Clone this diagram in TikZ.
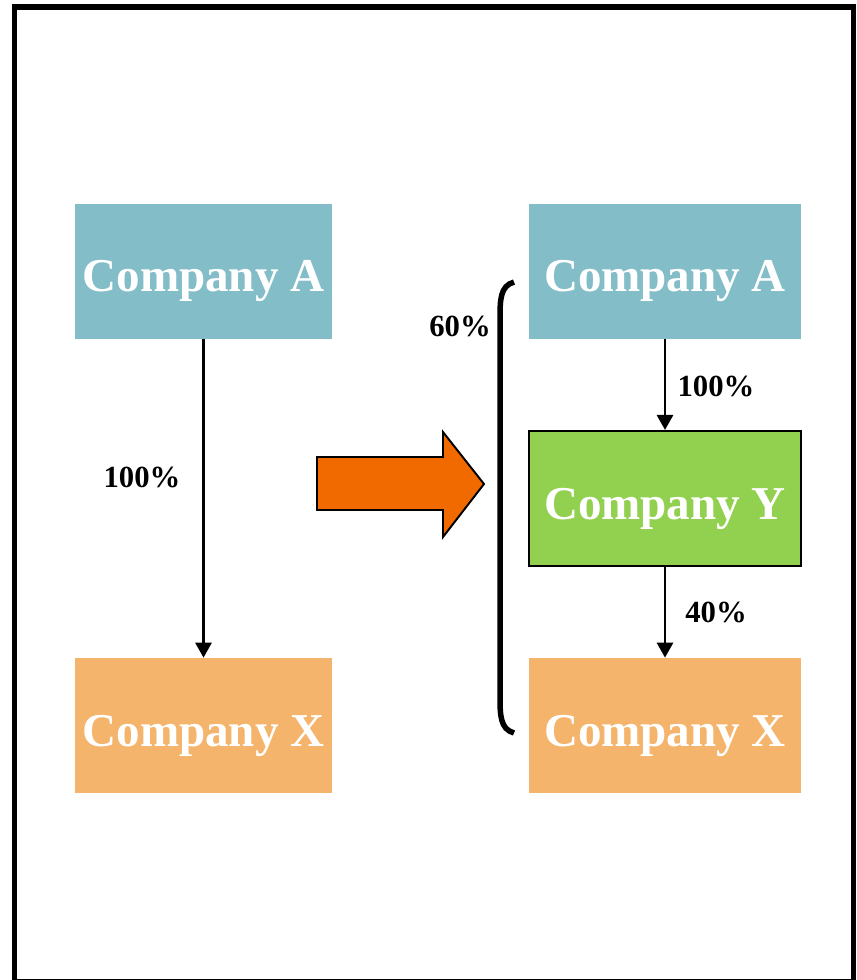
\documentclass[tikz,border=0pt]{standalone}
\usepackage{fontspec}
\setmainfont{Liberation Serif}
\usetikzlibrary{arrows.meta}

\definecolor{boxblue}{HTML}{82BDC8}
\definecolor{boxorange}{HTML}{F4B46C}
\definecolor{boxgreen}{HTML}{92D050}
\definecolor{bigarrow}{HTML}{F06A00}

\begin{document}
\begin{tikzpicture}[x=0.02cm,y=-0.02cm,  % pixel-like units, y downwards
    company/.style={
      rectangle,
      minimum width=5.14cm,
      minimum height=2.7cm,
      font=\fontsize{26.8}{30}\selectfont\bfseries,
      text=white,
      text height=0.82cm,  % pushes the baseline a bit lower
      text depth=0pt,
      inner sep=0pt
    },
    wide/.style={
      minimum width=5.44cm  % right column boxes are wider
    },
    share/.style={
      font=\fontsize{17.5}{20}\selectfont\bfseries
    },
    link/.style={
      line width=1.6pt,
      -{Triangle[length=3mm,width=3.2mm]}
    }
  ]

    % Frame
    \useasboundingbox (0,0) rectangle (856,980);
    \draw[line width=0.11cm] (14.5,7) rectangle (853.5,982);

    % Before
    \node[company,fill=boxblue] (a1) at (203.5,271.5) {Company A};
    \node[company,fill=boxorange] (x1) at (203.5,725.5) {Company X};
    \draw[link] (a1) -- (x1);
    \node[share] (p1) at (142,477) {100\%};

    % Transition arrow
    \draw[fill=bigarrow,line width=1.1pt] (317,457) -- (443,457) -- (443,432)
      -- (484,484) -- (443,537) -- (443,510) -- (317,510) -- cycle;

    % After
    \node[company,wide,fill=boxblue] (a2) at (665,271.5) {Company A};
    \node[company,wide,fill=boxgreen,draw=black,line width=1.2pt] (y2) at (665,498.5) {Company Y};
    \node[company,wide,fill=boxorange] (x2) at (665,725.5) {Company X};
    \draw[link] (a2) -- (y2);
    \draw[link] (y2) -- (x2);
    \node[share] (p2) at (716,386) {100\%};
    \node[share] (p3) at (716,612) {40\%};

    % Indirect share bracket
    \coordinate (bt) at (514,282);
    \coordinate (bb) at (514,733);
    \draw[line width=1.1mm] (bt) .. controls (500,286) and (500,300) .. (500,320)
      -- (500,695) .. controls (500,715) and (500,729) .. (bb);
    \node[share] (p4) at (460,326) {60\%};

  \end{tikzpicture}
\end{document}
